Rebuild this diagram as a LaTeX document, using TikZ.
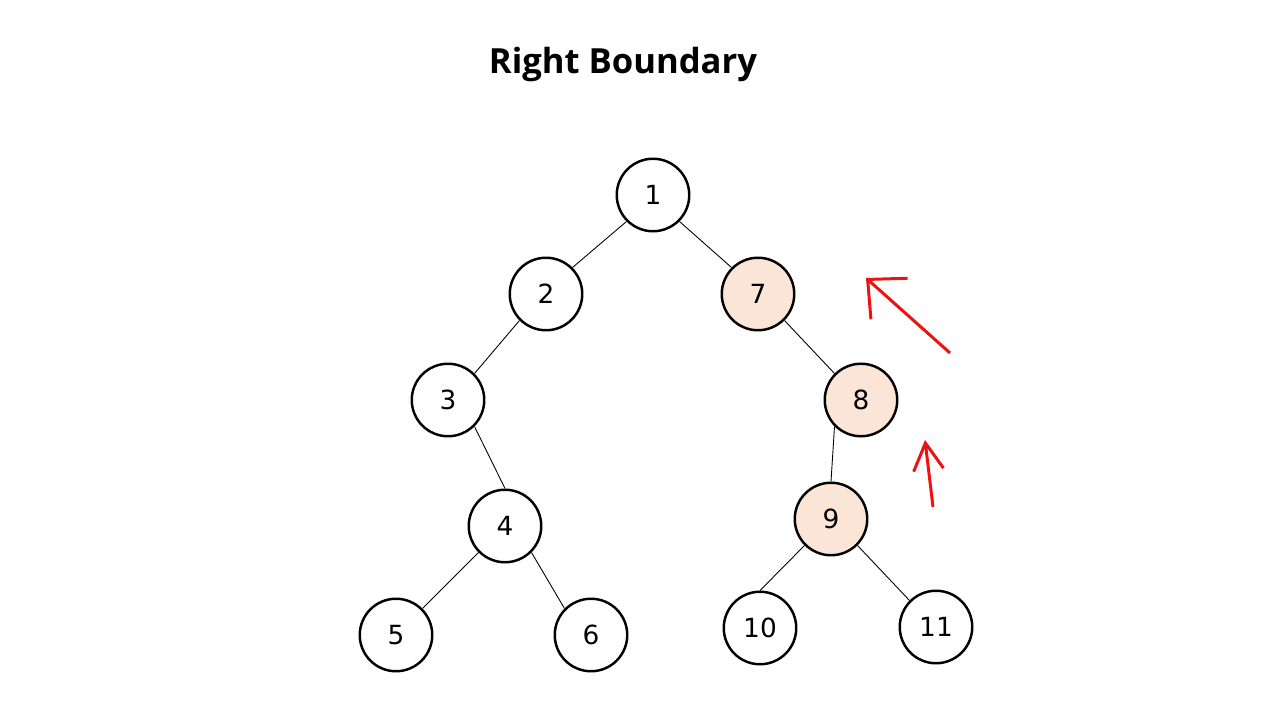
\documentclass[tikz,border=0pt]{standalone}
\usepackage{fontspec}
\setmainfont{DejaVu Sans}
\newfontfamily\titlefont{Open Sans}
\usetikzlibrary{arrows.meta}
\definecolor{peach}{HTML}{FBE5D6}
\definecolor{arrowred}{HTML}{EE1111}

\begin{document}
\begin{tikzpicture}[
	vert/.style={circle,draw=black,line width=1.4pt,fill=white,minimum size=1.45cm,inner sep=0pt,font=\fontsize{15}{18}\selectfont},
	bnd/.style={vert,fill=peach},
	edge/.style={draw=black,line width=0.5pt},
	hint/.style={draw=arrowred,line width=1.7pt}
]
	\useasboundingbox (0,0) rectangle (25.6,14.4);
	\node (title) at (12.46,13.10) {\titlefont\bfseries\fontsize{19.7}{23}\selectfont Right Boundary};
	% the tree
	\node[vert] (n1) at (13.06,10.50) {1};
	\node[vert] (n2) at (10.92,8.52) {2};
	\node[bnd] (n7) at (15.16,8.52) {7};
	\node[vert] (n3) at (8.96,6.40) {3};
	\node[bnd] (n8) at (17.22,6.40) {8};
	\node[vert] (n4) at (10.10,3.88) {4};
	\node[bnd] (n9) at (16.62,4.02) {9};
	\node[vert] (n5) at (7.92,1.70) {5};
	\node[vert] (n6) at (11.82,1.70) {6};
	\node[vert] (n10) at (15.20,1.84) {10};
	\node[vert] (n11) at (18.72,1.86) {11};
	\draw[edge] (n1.south west) -- (n2.north east);
	\draw[edge] (n1.south east) -- (n7.north west);
	\draw[edge] (n2.south west) -- (n3.north east);
	\draw[edge] (n3.south east) -- (n4.north);
	\draw[edge] (n4.south west) -- (n5.north east);
	\draw[edge] (n4.south east) -- (n6.north west);
	\draw[edge] (n7.south east) -- (n8.north west);
	\draw[edge] (n8.south west) -- (n9.north);
	\draw[edge] (n9.south west) -- (n10.north);
	\draw[edge] (n9.south east) -- (n11.north west);
	% red arrows going up the right side
	\coordinate (a1s) at (19.00,7.34);
	\coordinate (a1e) at (17.32,8.84);
	\coordinate (a2s) at (18.66,4.26);
	\coordinate (a2e) at (18.50,5.60);
	\draw[hint,-{Straight Barb[length=0.58cm,width=1.1cm]}] (a1s) -- (a1e);
	\draw[hint,-{Straight Barb[length=0.54cm,width=0.6cm]}] (a2s) -- (a2e);
\end{tikzpicture}
\end{document}
